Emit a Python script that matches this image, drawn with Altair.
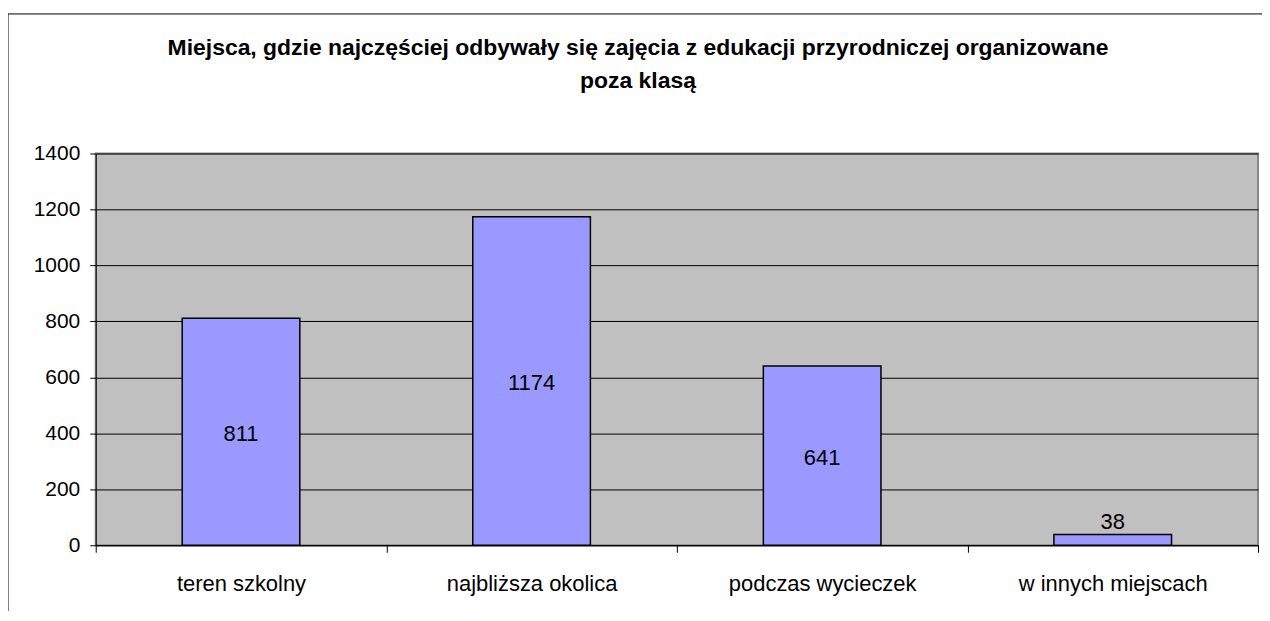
import altair as alt
import pandas as pd

categories = ["teren szkolny", "najbliższa okolica", "podczas wycieczek", "w innych miejscach"]
values = [811, 1174, 641, 38]
title_lines = [
    "Miejsca, gdzie najczęściej odbywały się zajęcia z edukacji przyrodniczej organizowane",
    "poza klasą",
]
y_ticks = [0, 200, 400, 600, 800, 1000, 1200, 1400]

df = pd.DataFrame({"cat": categories, "val": values})
one = pd.DataFrame({"k": [0]})

FONT = "Liberation Sans"
W, H = 1166, 393

x_axis = alt.Axis(
    title=None, labelAngle=0, tickBand="extent", tickSize=7, tickColor="black",
    domainColor="black", labelFontSize=22, labelFont=FONT, labelColor="black",
    labelPadding=21, labelBaseline="top", labelLimit=400, grid=False,
)
y_axis = alt.Axis(
    title=None, values=y_ticks, format="d", tickSize=6, tickColor="black", domainColor="black",
    labelFontSize=21, labelFont=FONT, labelColor="black", labelPadding=10,
    grid=True, gridColor="black", gridWidth=1,
)
x_scale = alt.Scale(paddingInner=0, paddingOuter=0)
y_scale = alt.Scale(domain=[0, 1400], nice=False)

bars = alt.Chart(df).mark_bar(
    color="#9999FF", stroke="black", strokeWidth=1.5, size=118
).encode(
    x=alt.X("cat:N", sort=categories, scale=x_scale, axis=x_axis),
    y=alt.Y("val:Q", scale=y_scale, axis=y_axis),
)

inner = alt.Chart(df).transform_filter("datum.val >= 100").transform_calculate(
    mid="datum.val / 2"
).mark_text(fontSize=22, font=FONT, color="black", baseline="middle", dy=2).encode(
    x=alt.X("cat:N", sort=categories, scale=x_scale, axis=x_axis),
    y=alt.Y("mid:Q", scale=y_scale, axis=y_axis),
    text="val:Q",
)

outer = alt.Chart(df).transform_filter("datum.val < 100").mark_text(
    fontSize=22, font=FONT, color="black", baseline="bottom", dy=-1
).encode(
    x=alt.X("cat:N", sort=categories, scale=x_scale, axis=x_axis),
    y=alt.Y("val:Q", scale=y_scale, axis=y_axis),
    text="val:Q",
)

frame = alt.Chart(one).mark_rect(
    fill="white", fillOpacity=0, stroke="black", strokeWidth=1
).encode(
    x=alt.value(-88), x2=alt.value(1200), y=alt.value(-140), y2=alt.value(520)
)

title1 = alt.Chart(one).mark_text(
    fontSize=23, font=FONT, fontWeight="bold", color="black", baseline="middle", align="center"
).encode(x=alt.value(544), y=alt.value(-106), text=alt.value(title_lines[0]))

title2 = alt.Chart(one).mark_text(
    fontSize=23, font=FONT, fontWeight="bold", color="black", baseline="middle", align="center"
).encode(x=alt.value(544), y=alt.value(-73), text=alt.value(title_lines[1]))

chart = alt.layer(bars, inner, outer, frame, title1, title2).properties(
    width=W,
    height=H,
    autosize=alt.AutoSizeParams(type="none"),
    padding={"left": 88, "top": 145, "right": 4, "bottom": 65},
    background="white",
).configure_view(
    fill="#C0C0C0", stroke="#888888", strokeWidth=2
)

chart.save("out.html", embed_options={"renderer": "svg", "actions": False})
